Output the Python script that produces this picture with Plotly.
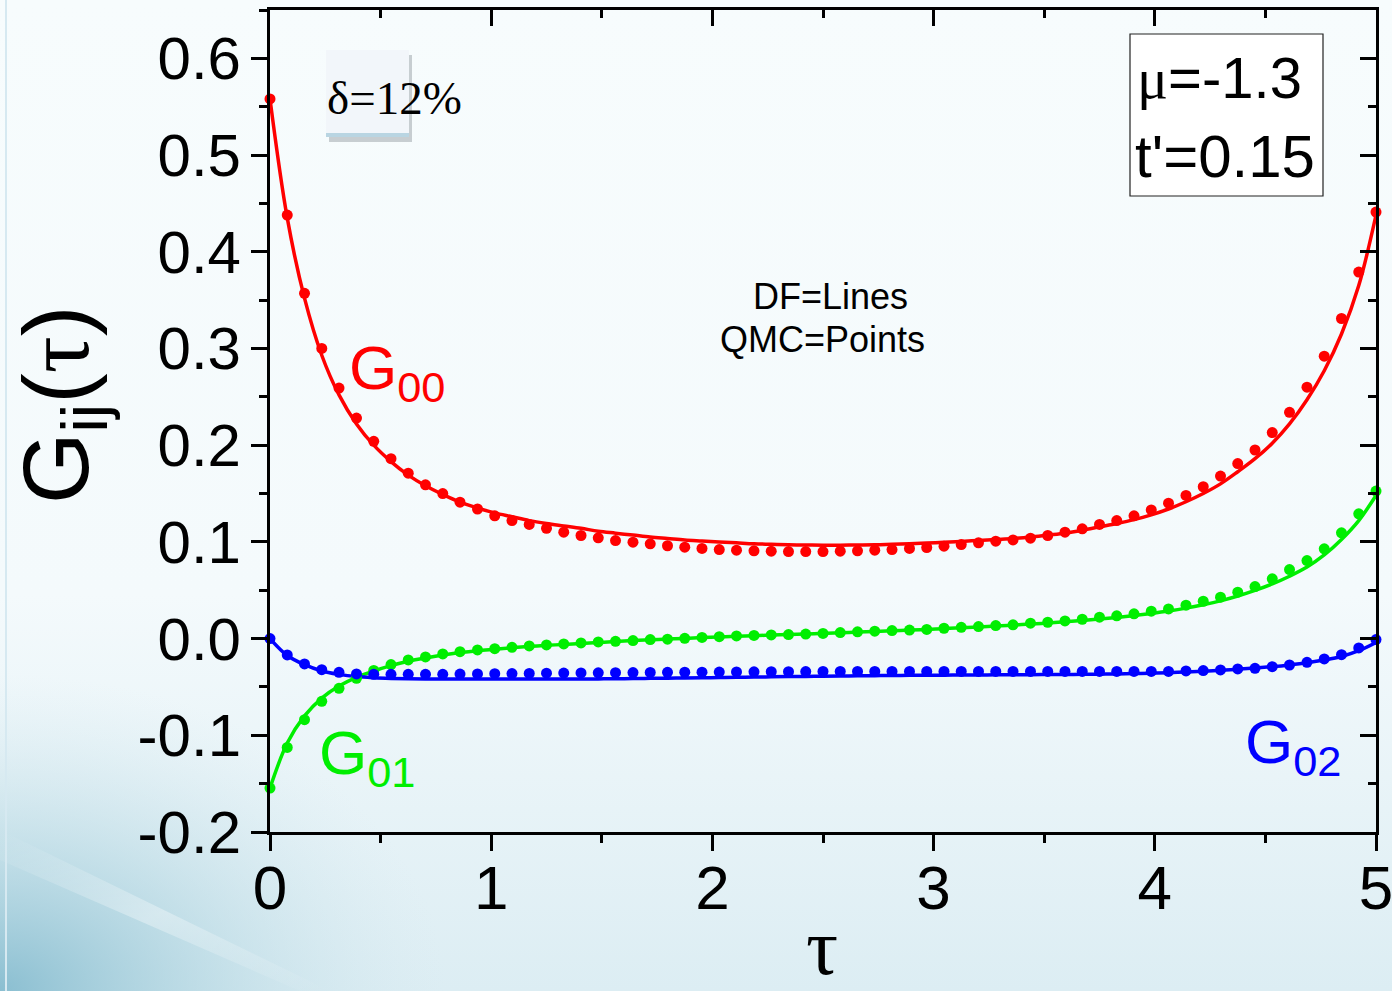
import base64
import plotly.graph_objects as go

# ---------------- data ----------------
tau = [0.000, 0.078, 0.156, 0.234, 0.312, 0.391, 0.469, 0.547, 0.625, 0.703,
       0.781, 0.859, 0.938, 1.016, 1.094, 1.172, 1.250, 1.328, 1.406, 1.484,
       1.562, 1.641, 1.719, 1.797, 1.875, 1.953, 2.031, 2.109, 2.188, 2.266,
       2.344, 2.422, 2.500, 2.578, 2.656, 2.734, 2.812, 2.891, 2.969, 3.047,
       3.125, 3.203, 3.281, 3.359, 3.438, 3.516, 3.594, 3.672, 3.750, 3.828,
       3.906, 3.984, 4.062, 4.141, 4.219, 4.297, 4.375, 4.453, 4.531, 4.609,
       4.688, 4.766, 4.844, 4.922, 5.000]

# QMC (points)
qmc_g00 = [0.558, 0.438, 0.357, 0.300, 0.259, 0.228, 0.204, 0.186, 0.171, 0.159,
           0.150, 0.141, 0.134, 0.127, 0.122, 0.118, 0.114, 0.110, 0.1066, 0.1042,
           0.1014, 0.0997, 0.098, 0.096, 0.0945, 0.0932, 0.0921, 0.0914, 0.0908, 0.0904,
           0.090, 0.090, 0.090, 0.0904, 0.0908, 0.0914, 0.0921, 0.0932, 0.0942, 0.0956,
           0.0973, 0.099, 0.1007, 0.102, 0.1038, 0.1066, 0.110, 0.1135, 0.118, 0.122,
           0.127, 0.133, 0.140, 0.148, 0.157, 0.168, 0.181, 0.195, 0.213, 0.234,
           0.260, 0.292, 0.331, 0.379, 0.441]
qmc_g01 = [-0.1546, -0.1125, -0.0839, -0.0649, -0.0514, -0.041, -0.033, -0.0269, -0.0221, -0.019,
           -0.0159, -0.0135, -0.0117, -0.0104, -0.009, -0.0076, -0.0066, -0.0055, -0.0045, -0.0035,
           -0.0028, -0.0021, -0.0010, -0.0006, 0.0003, 0.0012, 0.0020, 0.0027, 0.0033, 0.0038,
           0.0042, 0.0047, 0.0053, 0.0062, 0.0070, 0.0077, 0.0083, 0.0088, 0.0095, 0.0107,
           0.0117, 0.0124, 0.0135, 0.0142, 0.0159, 0.0169, 0.0183, 0.020, 0.0221, 0.0235,
           0.0256, 0.0283, 0.0307, 0.0345, 0.0386, 0.0428, 0.048, 0.0538, 0.0618, 0.0714,
           0.0807, 0.0928, 0.1094, 0.129, 0.1525]
qmc_g02 = [0.000, -0.0169, -0.0262, -0.0321, -0.0349, -0.0365, -0.037, -0.037, -0.037, -0.037,
           -0.037, -0.0367, -0.0365, -0.0363, -0.0362, -0.036, -0.0358, -0.0356, -0.0355, -0.0354,
           -0.0352, -0.0351, -0.035, -0.0349, -0.0348, -0.0347, -0.0346, -0.0345, -0.0344, -0.0343,
           -0.0342, -0.0341, -0.034, -0.034, -0.034, -0.034, -0.034, -0.034, -0.034, -0.034,
           -0.034, -0.034, -0.034, -0.034, -0.034, -0.034, -0.034, -0.034, -0.034, -0.034,
           -0.034, -0.034, -0.034, -0.0335, -0.0331, -0.0324, -0.0314, -0.0307, -0.029, -0.0273,
           -0.0245, -0.021, -0.0166, -0.0097, -0.001]

# DF (lines)
df_g00 = [0.558, 0.435, 0.352, 0.293, 0.252, 0.222, 0.200, 0.183, 0.169, 0.158,
          0.149, 0.141, 0.135, 0.130, 0.126, 0.122, 0.119, 0.1165, 0.114, 0.111,
          0.109, 0.107, 0.105, 0.1035, 0.102, 0.101, 0.100, 0.099, 0.098, 0.0975,
          0.097, 0.0968, 0.0966, 0.0966, 0.0968, 0.097, 0.0975, 0.098, 0.0988, 0.0996,
          0.1005, 0.1015, 0.1025, 0.1035, 0.105, 0.107, 0.109, 0.112, 0.1155, 0.119,
          0.123, 0.128, 0.134, 0.1415, 0.150, 0.160, 0.1725, 0.186, 0.202, 0.222,
          0.247, 0.277, 0.315, 0.365, 0.438]
df_g01 = [-0.1546, -0.108, -0.080, -0.0615, -0.049, -0.040, -0.0335, -0.028, -0.0235, -0.020,
          -0.017, -0.0145, -0.0125, -0.011, -0.0095, -0.008, -0.007, -0.006, -0.005, -0.004,
          -0.003, -0.002, -0.0012, -0.0005, 0.0002, 0.001, 0.0017, 0.0024, 0.003, 0.0036,
          0.0042, 0.0048, 0.0054, 0.006, 0.0067, 0.0074, 0.0081, 0.0088, 0.0095, 0.0103,
          0.0111, 0.012, 0.0129, 0.0139, 0.015, 0.0161, 0.0173, 0.0187, 0.0202, 0.0219,
          0.0238, 0.026, 0.0285, 0.0315, 0.035, 0.039, 0.0440, 0.0498, 0.0565, 0.0645,
          0.0740, 0.0865, 0.1025, 0.122, 0.148]
df_g02 = [0.000, -0.0175, -0.027, -0.0335, -0.037, -0.0393, -0.0405, -0.0412, -0.0416, -0.0418,
          -0.0418, -0.0418, -0.0418, -0.0418, -0.0418, -0.0418, -0.0418, -0.0418, -0.0418, -0.0417,
          -0.0415, -0.0413, -0.0411, -0.0409, -0.0407, -0.0405, -0.0403, -0.0400, -0.0398, -0.0395,
          -0.0393, -0.0391, -0.0389, -0.0387, -0.0385, -0.0383, -0.0382, -0.0380, -0.0379, -0.0378,
          -0.0377, -0.0376, -0.0375, -0.0374, -0.0373, -0.0372, -0.0371, -0.0370, -0.0368, -0.0366,
          -0.0362, -0.0358, -0.0352, -0.0345, -0.0337, -0.0328, -0.0317, -0.0305, -0.029, -0.0272,
          -0.025, -0.0222, -0.0185, -0.0125, -0.004]

y_tickvals = [-0.2, -0.1, 0.0, 0.1, 0.2, 0.3, 0.4, 0.5, 0.6]
y_ticktext = ["-0.2", "-0.1", "0.0", "0.1", "0.2", "0.3", "0.4", "0.5", "0.6"]
x_tickvals = [0, 1, 2, 3, 4, 5]
x_ticktext = ["0", "1", "2", "3", "4", "5"]

RED, GREEN, BLUE = "#ff0000", "#00ee00", "#0000ff"

# ---------------- layout helpers ----------------
W, H = 1392, 991
L, R, T, B = 270, 1376, 10, 832


def px(xp):
    return (xp - L) / (R - L)


def py(yp):
    return (B - yp) / (B - T)


SANS = "Arial, Liberation Sans, sans-serif"
SERIF = "Times New Roman, Liberation Serif, serif"

fig = go.Figure()

for df, col in [(df_g00, RED), (df_g01, GREEN), (df_g02, BLUE)]:
    fig.add_trace(go.Scatter(x=tau, y=df, mode="lines", line=dict(color=col, width=3.5, shape="spline"),
                             showlegend=False, cliponaxis=False, hoverinfo="skip"))
for qmc, col in [(qmc_g00, RED), (qmc_g01, GREEN), (qmc_g02, BLUE)]:
    fig.add_trace(go.Scatter(x=tau, y=qmc, mode="markers", marker=dict(color=col, size=11),
                             showlegend=False, cliponaxis=False))
# carrier for the mirrored top/right frame axes (not visible)
fig.add_trace(go.Scatter(x=tau, y=qmc_g00, xaxis="x2", yaxis="y2", mode="markers",
                         marker=dict(size=1, opacity=0), showlegend=False, hoverinfo="skip"))

# background gradient
svg = f"""<svg xmlns='http://www.w3.org/2000/svg' width='{W}' height='{H}' viewBox='0 0 {W} {H}' preserveAspectRatio='none'>
<defs>
<linearGradient id='g1' x1='0' y1='0' x2='0' y2='1'>
<stop offset='0' stop-color='#f7fcfd'/>
<stop offset='0.6' stop-color='#f4fafc'/>
<stop offset='1' stop-color='#dcedf3'/>
</linearGradient>
<radialGradient id='g2' cx='0' cy='1' r='0.32' gradientUnits='objectBoundingBox'>
<stop offset='0' stop-color='#86bccf' stop-opacity='0.95'/>
<stop offset='0.5' stop-color='#a6cfdc' stop-opacity='0.45'/>
<stop offset='1' stop-color='#cfe5ed' stop-opacity='0'/>
</radialGradient>
<linearGradient id='g3' x1='0' y1='0' x2='1' y2='1'>
<stop offset='0' stop-color='#ffffff' stop-opacity='0'/>
<stop offset='0.5' stop-color='#ffffff' stop-opacity='0.35'/>
<stop offset='1' stop-color='#ffffff' stop-opacity='0'/>
</linearGradient>
</defs>
<rect x='0' y='0' width='{W}' height='{H}' fill='url(#g1)'/>
<rect x='0' y='0' width='{W}' height='{H}' fill='url(#g2)'/>
<polygon points='0,830 330,991 300,991 0,860' fill='url(#g3)'/>
<line x1='6' y1='0' x2='6' y2='{H}' stroke='#d6e9f1' stroke-width='2'/>
</svg>"""
src = "data:image/svg+xml;base64," + base64.b64encode(svg.encode()).decode()

axis_common = dict(showline=True, linewidth=3, linecolor="black", showgrid=False, zeroline=False,
                   tickwidth=3, tickcolor="black", ticklen=16, automargin=False)

fig.update_layout(
    width=W, height=H,
    margin=dict(l=L, r=W - R, t=T, b=H - B, pad=0, autoexpand=False),
    paper_bgcolor="#f7fcfd",
    plot_bgcolor="rgba(0,0,0,0)",
    images=[dict(source=src, xref="paper", yref="paper", x=px(0), y=py(0),
                 sizex=W / (R - L), sizey=H / (B - T), sizing="stretch", layer="below",
                 xanchor="left", yanchor="top")],
    xaxis=dict(range=[0, 5], tickvals=x_tickvals, ticktext=x_ticktext, ticks="outside",
               tickfont=dict(family=SANS, size=62, color="black"), ticklabelstandoff=-16,
               ticklabeloverflow="allow",
               minor=dict(ticks="outside", ticklen=8, tickwidth=3, tickcolor="black", dtick=0.5, tick0=0),
               **axis_common),
    xaxis2=dict(range=[0, 5], overlaying="x", side="top", anchor="y2", ticks="inside",
                tickvals=x_tickvals, showticklabels=False,
                minor=dict(ticks="inside", ticklen=8, tickwidth=3, tickcolor="black", dtick=0.5, tick0=0),
                **axis_common),
    yaxis=dict(range=[-0.2, 0.65], tickvals=y_tickvals, ticktext=y_ticktext, ticks="outside",
               tickfont=dict(family=SANS, size=60, color="black"), ticklabelstandoff=-2,
               minor=dict(ticks="outside", ticklen=8, tickwidth=3, tickcolor="black",
                          tickmode="linear", dtick=0.05, tick0=-0.2),
               **axis_common),
    yaxis2=dict(range=[-0.2, 0.65], overlaying="y", side="right", anchor="x2", ticks="inside",
                tickvals=y_tickvals, showticklabels=False,
                minor=dict(ticks="inside", ticklen=8, tickwidth=3, tickcolor="black",
                           tickmode="linear", dtick=0.05, tick0=-0.2),
                **axis_common),
    showlegend=False,
)

shapes = [
    # delta box shadow + box
    dict(type="rect", xref="paper", yref="paper", x0=px(329), x1=px(412), y0=py(55), y1=py(142),
         fillcolor="rgba(90,100,110,0.30)", line=dict(width=0), layer="above"),
    dict(type="rect", xref="paper", yref="paper", x0=px(326), x1=px(409), y0=py(50), y1=py(137),
         fillcolor="#f2f6fa", line=dict(width=0), layer="above"),
    dict(type="rect", xref="paper", yref="paper", x0=px(326), x1=px(409), y0=py(133), y1=py(137),
         fillcolor="#b9d5e2", line=dict(width=0), layer="above"),
    # mu box
    dict(type="rect", xref="paper", yref="paper", x0=px(1130), x1=px(1323), y0=py(34), y1=py(196),
         fillcolor="white", line=dict(width=1.2, color="#222"), layer="above"),
]
fig.update_layout(shapes=shapes)

ann = []


def add(text, xp, yp, size, color="black", family=SANS, xanchor="center", yanchor="middle", angle=0):
    ann.append(dict(text=text, xref="paper", yref="paper", x=px(xp), y=py(yp), showarrow=False,
                    font=dict(family=family, size=size, color=color), xanchor=xanchor,
                    yanchor=yanchor, textangle=angle))


add("δ=12%", 325, 98, 47, family=SERIF, xanchor="left")
add(f"<span style='font-family:{SERIF}'>μ</span>=-1.3", 1135, 78, 58, xanchor="left")
add("t'=0.15", 1133, 157, 60, xanchor="left")
add("DF=Lines", 830, 296, 36)
add("QMC=Points", 822, 339, 36)
add("G<sub>00</sub>", 397, 372, 62, color=RED)
add("G<sub>01</sub>", 367, 757, 62, color=GREEN)
add("G<sub>02</sub>", 1293, 746, 62, color=BLUE)
add("τ", 822, 947, 80, family=SERIF)
add(f"G<sub>ij</sub>(<span style='font-family:{SERIF}'>τ</span>)", 63, 405, 92, angle=-90)
fig.update_layout(annotations=ann)

fig.write_html("out.html")
